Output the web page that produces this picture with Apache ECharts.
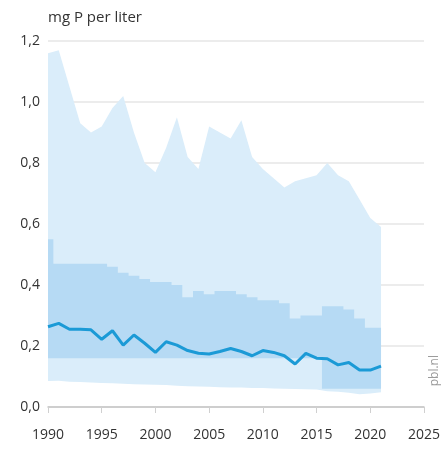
<!DOCTYPE html>
<html>
<head>
<meta charset="utf-8">
<script src="https://cdn.jsdelivr.net/npm/echarts@6/dist/echarts.min.js"></script>
<style>
  html, body { margin: 0; padding: 0; background: #ffffff; }
  #chart { width: 444px; height: 450px; }
</style>
</head>
<body>
<div id="chart"></div>
<script>
// Phosphorus concentration in surface water, 1990-2021
const years = [1990,1991,1992,1993,1994,1995,1996,1997,1998,1999,2000,2001,2002,2003,2004,2005,
               2006,2007,2008,2009,2010,2011,2012,2013,2014,2015,2016,2017,2018,2019,2020,2021];

// median of all stations
const median = [0.263,0.274,0.255,0.255,0.253,0.222,0.250,0.203,0.236,0.209,0.179,0.214,0.203,0.185,0.176,0.174,
                0.182,0.192,0.182,0.168,0.185,0.179,0.168,0.141,0.176,0.160,0.158,0.138,0.146,0.121,0.121,0.134];

// full range (lowest / highest station)
const lowest  = [0.085,0.086,0.083,0.082,0.080,0.079,0.078,0.076,0.075,0.074,0.073,0.072,0.070,0.068,0.067,0.066,
                 0.065,0.064,0.064,0.062,0.062,0.061,0.060,0.059,0.058,0.057,0.052,0.050,0.047,0.042,0.044,0.048];
const highest = [1.16,1.17,1.05,0.93,0.90,0.92,0.98,1.02,0.90,0.80,0.77,0.85,0.95,0.82,0.78,0.92,
                 0.90,0.88,0.94,0.82,0.78,0.75,0.72,0.74,0.75,0.76,0.80,0.76,0.74,0.68,0.62,0.59];

// middle range (lower / upper quartile)
const lowerQ = [0.16,0.16,0.16,0.16,0.16,0.16,0.16,0.16,0.16,0.16,0.16,0.16,0.16,0.16,0.16,0.16,
                0.16,0.16,0.16,0.16,0.16,0.16,0.16,0.16,0.16,0.16,0.06,0.06,0.06,0.06,0.06,0.06];
const upperQ = [0.55,0.47,0.47,0.47,0.47,0.47,0.46,0.44,0.43,0.42,0.41,0.41,0.40,0.36,0.38,0.37,
                0.38,0.38,0.37,0.36,0.35,0.35,0.34,0.29,0.30,0.30,0.33,0.33,0.32,0.29,0.26,0.26];

const yTicks = [0, 0.2, 0.4, 0.6, 0.8, 1.0, 1.2];

const pairs = (vals) => years.map((y, i) => [y, vals[i]]);
const bandRows = (lo, hi) => years.map((y, i) => [y, lo[i], hi[i]]);

// band polygon through the points of each year (smooth edges)
function bandPolygon(rows, api) {
  const top = rows.map(r => api.coord([r[0], r[2]]));
  const bottom = rows.map(r => api.coord([r[0], r[1]])).reverse();
  return top.concat(bottom);
}

// band polygon with a flat block per year (step edges)
function stepPolygon(rows, api) {
  const n = rows.length;
  const x0 = rows[0][0], x1 = rows[n - 1][0];
  const edge = (i, side) => Math.min(x1, Math.max(x0, rows[i][0] + side * 0.5));
  const top = [], bottom = [];
  for (let i = 0; i < n; i++) {
    top.push(api.coord([edge(i, -1), rows[i][2]]));
    top.push(api.coord([edge(i, 1), rows[i][2]]));
    bottom.push(api.coord([edge(i, -1), rows[i][1]]));
    bottom.push(api.coord([edge(i, 1), rows[i][1]]));
  }
  return top.concat(bottom.reverse());
}

function bandSeries(rows, color, stepped, z) {
  return {
    type: 'custom',
    silent: true,
    z: z,
    data: rows,
    encode: { x: 0, y: [1, 2] },
    renderItem: (params, api) => {
      if (params.dataIndex !== 0) return null;
      const pts = stepped ? stepPolygon(rows, api) : bandPolygon(rows, api);
      return { type: 'polygon', shape: { points: pts }, style: { fill: color } };
    }
  };
}

const chart = echarts.init(document.getElementById('chart'), null, { renderer: 'canvas' });

const font = 'Open Sans, Lato, sans-serif';

chart.setOption({
  animation: false,
  backgroundColor: '#ffffff',
  grid: { left: 48, right: 20, top: 41, bottom: 43, containLabel: false },
  xAxis: {
    type: 'value',
    min: 1990, max: 2025, interval: 5,
    axisLine: { show: true, lineStyle: { color: '#c4c4c4', width: 1.5 } },
    axisTick: { show: true, length: 6, lineStyle: { color: '#d0d0d0' } },
    axisLabel: { color: '#333333', fontSize: 14, fontFamily: font, margin: 21,
                 formatter: (v) => String(v) },
    splitLine: { show: false }
  },
  yAxis: {
    type: 'value',
    min: 0, max: 1.2, interval: 0.2,
    name: 'mg P per liter',
    nameLocation: 'end',
    nameGap: 16,
    nameTextStyle: { color: '#333333', fontSize: 15, fontFamily: font, align: 'left' },
    axisLine: { show: false },
    axisTick: { show: false },
    axisLabel: { color: '#333333', fontSize: 14, fontFamily: font, margin: 8,
                 formatter: (v) => yTicks.some(t => Math.abs(t - v) < 1e-9) ? v.toFixed(1).replace('.', ',') : '' },
    splitLine: { show: true, lineStyle: { color: '#e6e6e6', width: 1.5 } }
  },
  series: [
    bandSeries(bandRows(lowest, highest), '#daedfa', false, 1),
    bandSeries(bandRows(lowerQ, upperQ), '#b6daf4', true, 2),
    { type: 'line', data: pairs(median), symbol: 'none', silent: true,
      lineStyle: { color: '#1b9ad6', width: 3 }, z: 5 }
  ],
  graphic: [
    { type: 'text', right: 3, top: 355, rotation: Math.PI / 2,
      style: { text: 'pbl.nl', fill: '#9a9a9a', font: '12px ' + font } }
  ]
});
</script>
</body>
</html>
